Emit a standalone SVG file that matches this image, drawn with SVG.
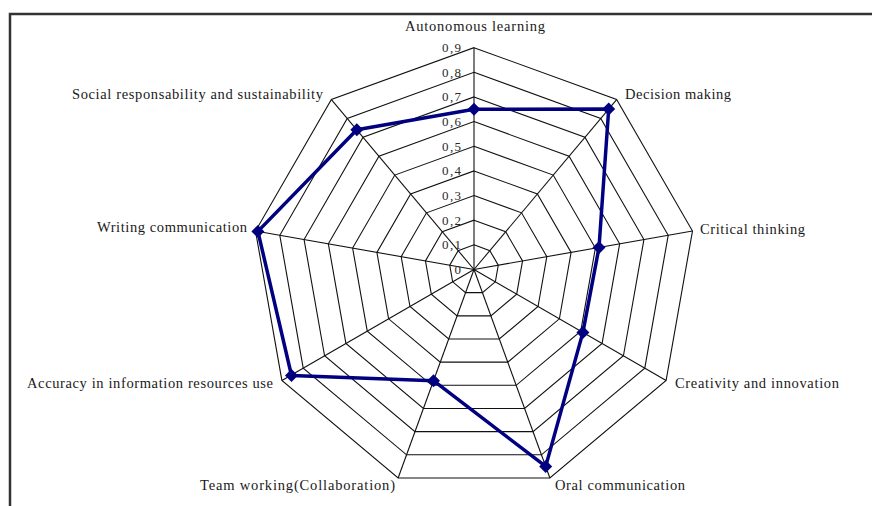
<svg xmlns="http://www.w3.org/2000/svg" width="872" height="506" viewBox="0 0 872 506">
<style>
.ring{fill:none;stroke:#111;stroke-width:1.1}
.spoke{stroke:#111;stroke-width:1.1}
.lbl{font-family:"Liberation Serif","Times New Roman",serif;font-size:14.5px;fill:#1a1a1a}
.tick{font-family:"Liberation Serif","Times New Roman",serif;font-size:13px;fill:#2a2a2a;text-anchor:end}
.data{fill:none;stroke:#000080;stroke-width:3.5;stroke-linejoin:round;marker-start:url(#dia);marker-mid:url(#dia)}
</style>
<defs>
<marker id="dia" markerUnits="userSpaceOnUse" markerWidth="16" markerHeight="16" refX="8" refY="8" orient="0">
<path d="M8,1.5 L14.5,8 L8,14.5 L1.5,8 Z" fill="#000080"/>
</marker>
</defs>
<rect width="872" height="506" fill="#fff"/>
<g id="frame" stroke="#333" stroke-width="2.5" fill="none">
<path d="M10,506 L10,14 L872,14"/>
</g>
<g id="grid">
<polygon class="ring" points="474,244.85 489.85,250.62 498.28,265.22 495.35,281.83 482.43,292.66 465.57,292.66 452.65,281.83 449.73,265.22 458.16,250.62"/>
<polygon class="ring" points="474,220.2 505.69,231.73 522.55,260.94 516.69,294.15 490.86,315.83 457.14,315.83 431.31,294.15 425.45,260.94 442.31,231.73"/>
<polygon class="ring" points="474,195.55 521.54,212.85 546.83,256.66 538.04,306.48 499.29,338.99 448.71,338.99 409.96,306.48 401.17,256.66 426.46,212.85"/>
<polygon class="ring" points="474,170.9 537.38,193.97 571.1,252.38 559.39,318.8 507.72,362.16 440.28,362.16 388.61,318.8 376.9,252.38 410.62,193.97"/>
<polygon class="ring" points="474,146.25 553.23,175.08 595.38,248.1 580.74,331.13 516.16,385.32 431.84,385.32 367.26,331.13 352.62,248.1 394.77,175.08"/>
<polygon class="ring" points="474,121.6 569.07,156.2 619.65,243.82 602.08,343.45 524.59,408.48 423.41,408.48 345.92,343.45 328.35,243.82 378.93,156.2"/>
<polygon class="ring" points="474,96.95 584.92,137.32 643.93,239.54 623.43,355.78 533.02,431.65 414.98,431.65 324.57,355.78 304.07,239.54 363.08,137.32"/>
<polygon class="ring" points="474,72.3 600.76,118.44 668.2,235.26 644.78,368.1 541.45,454.81 406.55,454.81 303.22,368.1 279.8,235.26 347.24,118.44"/>
<polygon class="ring" points="474,47.65 616.61,99.55 692.48,230.98 666.12,380.43 549.88,477.98 398.12,477.98 281.88,380.43 255.52,230.98 331.39,99.55"/>
<g class="spoke">
<line x1="474" y1="269.5" x2="474" y2="47.65"/>
<line x1="474" y1="269.5" x2="616.61" y2="99.55"/>
<line x1="474" y1="269.5" x2="692.48" y2="230.98"/>
<line x1="474" y1="269.5" x2="666.12" y2="380.43"/>
<line x1="474" y1="269.5" x2="549.88" y2="477.98"/>
<line x1="474" y1="269.5" x2="398.12" y2="477.98"/>
<line x1="474" y1="269.5" x2="281.88" y2="380.43"/>
<line x1="474" y1="269.5" x2="255.52" y2="230.98"/>
<line x1="474" y1="269.5" x2="331.39" y2="99.55"/>
</g>
</g>
<g id="ticks">
<text class="tick" x="461" y="274">0</text>
<text class="tick" x="461" y="249.35" textLength="19" lengthAdjust="spacing">0,1</text>
<text class="tick" x="461" y="224.7" textLength="19" lengthAdjust="spacing">0,2</text>
<text class="tick" x="461" y="200.05" textLength="19" lengthAdjust="spacing">0,3</text>
<text class="tick" x="461" y="175.4" textLength="19" lengthAdjust="spacing">0,4</text>
<text class="tick" x="461" y="150.75" textLength="19" lengthAdjust="spacing">0,5</text>
<text class="tick" x="461" y="126.1" textLength="19" lengthAdjust="spacing">0,6</text>
<text class="tick" x="461" y="101.45" textLength="19" lengthAdjust="spacing">0,7</text>
<text class="tick" x="461" y="76.8" textLength="19" lengthAdjust="spacing">0,8</text>
<text class="tick" x="461" y="52.15" textLength="19" lengthAdjust="spacing">0,9</text>
</g>
<g id="series">
<polygon class="data" points="474,109.3 608.7,109 599,247.5 582.9,332.4 545.7,466.4 433.5,380.7 291.5,375.5 257.9,231.4 356.8,129.8"/>
</g>
<g id="labels">
<text class="lbl" x="405" y="31" textLength="140" lengthAdjust="spacing">Autonomous learning</text>
<text class="lbl" x="625" y="98.5" textLength="106" lengthAdjust="spacing">Decision making</text>
<text class="lbl" x="700" y="234" textLength="105" lengthAdjust="spacing">Critical thinking</text>
<text class="lbl" x="675" y="387.5" textLength="164" lengthAdjust="spacing">Creativity and innovation</text>
<text class="lbl" x="555" y="490" textLength="130" lengthAdjust="spacing">Oral communication</text>
<text class="lbl" x="200" y="489.5" textLength="195" lengthAdjust="spacing">Team working(Collaboration)</text>
<text class="lbl" x="27" y="387.5" textLength="246" lengthAdjust="spacing">Accuracy in information resources use</text>
<text class="lbl" x="97" y="232" textLength="150" lengthAdjust="spacing">Writing communication</text>
<text class="lbl" x="72" y="99" textLength="251" lengthAdjust="spacing">Social responsability and sustainability</text>
</g>
</svg>
